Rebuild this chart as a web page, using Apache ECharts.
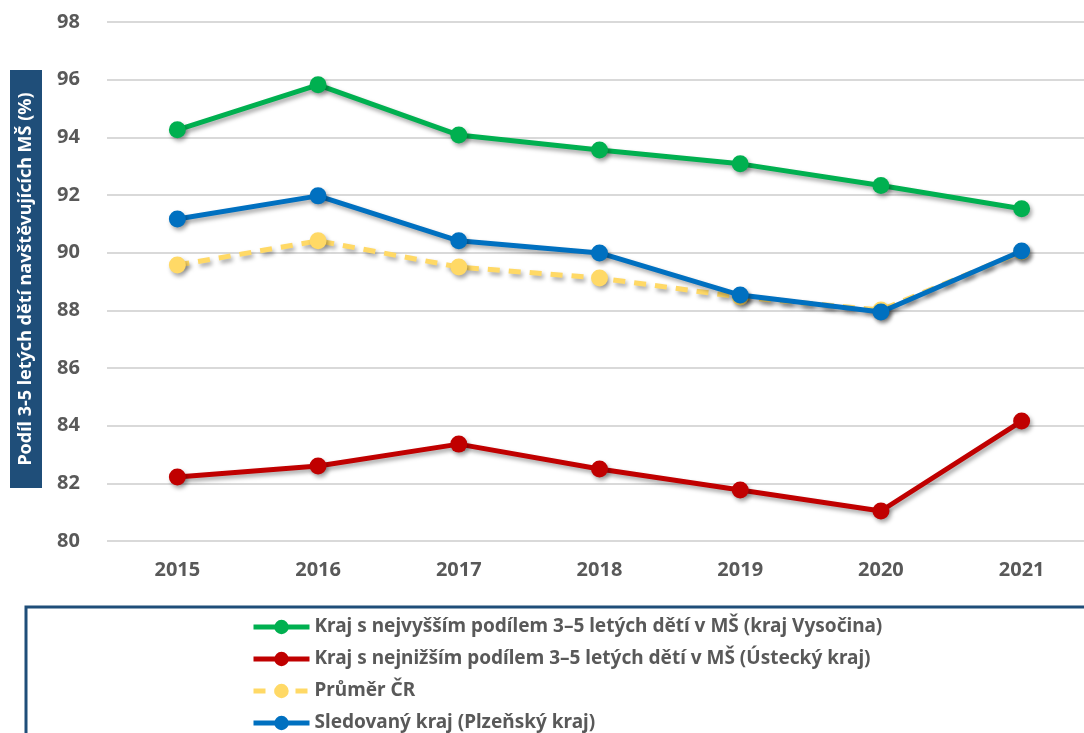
<!DOCTYPE html>
<html>
<head>
<meta charset="utf-8">
<script src="https://cdn.jsdelivr.net/npm/echarts@6/dist/echarts.min.js"></script>
<style>html,body{margin:0;padding:0;background:#fff;}#c{width:1084px;height:733px;}</style>
</head>
<body>
<div id="c"></div>
<script>
const years = ['2015','2016','2017','2018','2019','2020','2021'];
const highest = [94.26, 95.82, 94.08, 93.56, 93.08, 92.33, 91.52];
const lowest = [82.22, 82.60, 83.36, 82.50, 81.77, 81.04, 84.16];
const average = [89.57, 90.41, 89.50, 89.12, 88.46, 88.01, 90.03];
const tracked = [91.17, 91.97, 90.41, 89.99, 88.53, 87.94, 90.06];
const seriesNames = [
  'Kraj s nejvyšším podílem 3–5 letých dětí v MŠ (kraj Vysočina)',
  'Kraj s nejnižším podílem 3–5 letých dětí v MŠ (Ústecký kraj)',
  'Průměr ČR',
  'Sledovaný kraj (Plzeňský kraj)'
];
const yTitle = 'Podíl 3-5 letých dětí navštěvujících MŠ (%)';
const colors = ['#00B050', '#C00000', '#FFD966', '#0070C0'];
const datasets = [highest, lowest, average, tracked];

const chart = echarts.init(document.getElementById('c'));
const font = 'Noto Sans, Open Sans, sans-serif';
const series = datasets.map((d, i) => ({
  name: seriesNames[i],
  type: 'line',
  data: d,
  symbol: 'circle',
  symbolSize: 17,
  itemStyle: {color: colors[i], shadowColor: 'rgba(0,0,0,0.35)', shadowBlur: 4, shadowOffsetX: 2, shadowOffsetY: 3},
  lineStyle: {color: colors[i], width: 5, type: i === 2 ? [12, 9] : 'solid',
    shadowColor: 'rgba(0,0,0,0.35)', shadowBlur: 4, shadowOffsetX: 2, shadowOffsetY: 3},
  emphasis: {disabled: true},
  z: 2 + i
}));

chart.setOption({
  animation: false,
  textStyle: {fontFamily: font},
  grid: {left: 107, width: 985, top: 22, bottom: 192, containLabel: false, outerBoundsMode: 'none'},
  xAxis: {
    type: 'category', data: years, boundaryGap: true,
    axisLine: {show: false}, axisTick: {show: false},
    axisLabel: {color: '#595959', fontWeight: 'bold', fontSize: 20, margin: 19, fontFamily: font}
  },
  yAxis: {
    type: 'value', min: 80, max: 98, interval: 2,
    axisLine: {show: false}, axisTick: {show: false},
    axisLabel: {color: '#595959', fontWeight: 'bold', fontSize: 20, margin: 27, fontFamily: font},
    splitLine: {lineStyle: {color: '#D9D9D9', width: 2}}
  },
  legend: {
    orient: 'vertical', left: 246, top: 612, height: 200, itemGap: 12,
    itemWidth: 56, itemHeight: 18,
    lineStyle: {width: 5},
    itemStyle: {shadowBlur: 0, shadowOffsetX: 0, shadowOffsetY: 0},
    textStyle: {color: '#595959', fontSize: 19, lineHeight: 20, fontFamily: font, fontWeight: 'bold'},
    data: seriesNames
  },
  graphic: [
    {type: 'rect', shape: {x: 26, y: 607, width: 1100, height: 200},
     style: {fill: 'none', stroke: '#1F4E79', lineWidth: 3}, z: 0, silent: true},
    {type: 'rect', shape: {x: 10, y: 70, width: 32, height: 418},
     style: {fill: '#1F4E79'}, z: 1, silent: true},
    {type: 'text', x: 26, y: 279, rotation: Math.PI / 2,
     style: {text: yTitle, fill: '#ffffff', font: 'bold 18px ' + font, align: 'center', verticalAlign: 'middle'},
     z: 2, silent: true}
  ],
  series: series
});
</script>
</body>
</html>
